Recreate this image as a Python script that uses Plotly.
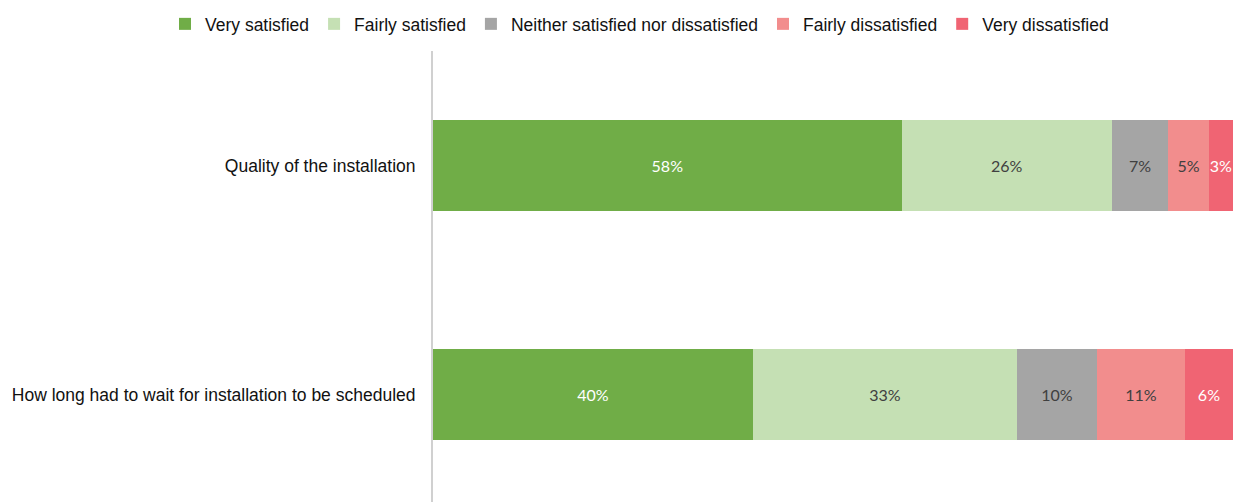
import plotly.graph_objects as go

# Survey items (top to bottom) and response shares in percent
categories = ["Quality of the installation",
              "How long had to wait for installation to be scheduled"]
series_names = ["Very satisfied", "Fairly satisfied",
                "Neither satisfied nor dissatisfied",
                "Fairly dissatisfied", "Very dissatisfied"]
very_satisfied = [58, 40]
fairly_satisfied = [26, 33]
neither = [7, 10]
fairly_dissatisfied = [5, 11]
very_dissatisfied = [3, 6]

series_values = [very_satisfied, fairly_satisfied, neither,
                 fairly_dissatisfied, very_dissatisfied]
colors = ["#70AD47", "#C5E0B4", "#A5A5A5", "#F28D8D", "#F06473"]
text_colors = ["#FFFFFF", "#404040", "#404040", "#404040", "#FFFFFF"]

fig = go.Figure()
for name, vals, col, tcol in zip(series_names, series_values, colors, text_colors):
    fig.add_trace(go.Bar(
        y=categories, x=vals, name=name, orientation="h",
        marker=dict(color=col, line=dict(width=0)),
        text=[f"{v}%" for v in vals],
        textposition="inside", insidetextanchor="middle",
        constraintext="none", textangle=0,
        textfont=dict(family="Lato, Carlito, sans-serif", size=16, color=tcol),
        width=0.4,
        hoverinfo="skip",
    ))

fig.update_layout(
    width=1233, height=502,
    barmode="stack", barnorm="percent",
    margin=dict(l=433, r=0, t=51, b=0, autoexpand=False),
    plot_bgcolor="white", paper_bgcolor="white",
    font=dict(family="Liberation Sans, Arial, sans-serif", size=17.5, color="#111111"),
    uniformtext=dict(minsize=16, mode="show"),
    showlegend=True,
    legend=dict(orientation="h", xref="paper", yref="paper",
                x=-0.335, xanchor="left", y=1.02, yanchor="bottom",
                font=dict(size=17.5, color="#111111"),
                traceorder="normal", itemwidth=30, tracegroupgap=0),
    xaxis=dict(range=[0, 100], visible=False, showgrid=False, zeroline=False),
    yaxis=dict(range=[1.469, -0.5], showgrid=False, zeroline=False,
               showline=True, linecolor="#D0D0D0", linewidth=2,
               ticks="", ticklabelstandoff=12,
               tickfont=dict(size=17.5, color="#111111")),
)

fig.write_html("out.html")
